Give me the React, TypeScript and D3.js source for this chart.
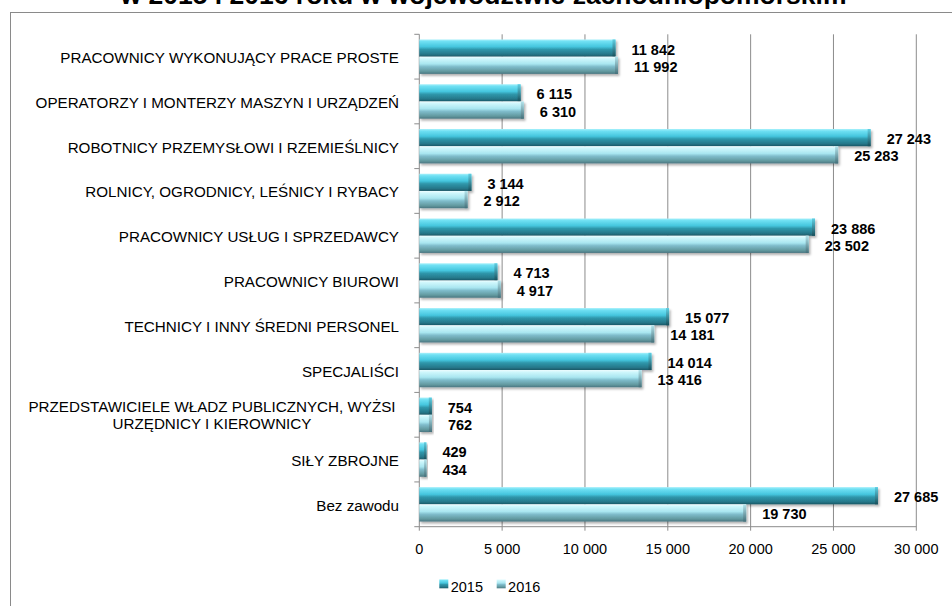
import React from "react";
import * as d3 from "d3";

const categories: string[] = [
  "PRACOWNICY WYKONUJĄCY PRACE PROSTE",
  "OPERATORZY I MONTERZY MASZYN I URZĄDZEŃ",
  "ROBOTNICY PRZEMYSŁOWI I RZEMIEŚLNICY",
  "ROLNICY, OGRODNICY, LEŚNICY I RYBACY",
  "PRACOWNICY USŁUG I SPRZEDAWCY",
  "PRACOWNICY BIUROWI",
  "TECHNICY I INNY ŚREDNI PERSONEL",
  "SPECJALIŚCI",
  "PRZEDSTAWICIELE WŁADZ PUBLICZNYCH, WYŻSI\nURZĘDNICY I KIEROWNICY",
  "SIŁY ZBROJNE",
  "Bez zawodu",
];
const values2015: number[] = [11842, 6115, 27243, 3144, 23886, 4713, 15077, 14014, 754, 429, 27685];
const values2016: number[] = [11992, 6310, 25283, 2912, 23502, 4917, 14181, 13416, 762, 434, 19730];
const seriesNames: string[] = ["2015", "2016"];
const xTicks: number[] = [0, 5000, 10000, 15000, 20000, 25000, 30000];
const titleText = "w 2015 i 2016 roku w województwie zachodniopomorskim";

const W = 952;
const H = 606;
const plot = { left: 419.3, right: 916.3, top: 34.3, bottom: 526.7 };
const FONT = "'Liberation Sans', Arial, sans-serif";
const GRID = "#8c8c8c";

const locale = d3.formatLocale({ decimal: ",", thousands: "\u00a0", grouping: [3], currency: ["", ""] });
const fmt = locale.format(",d");

export default function App() {
  const x = d3.scaleLinear().domain([0, 30000]).range([plot.left, plot.right]);
  const y = d3.scaleBand<string>().domain(categories).range([plot.top, plot.bottom]).paddingInner(0).paddingOuter(0);
  const inner = d3
    .scaleBand<string>()
    .domain(seriesNames)
    .range([0, y.bandwidth()])
    .paddingInner(0)
    .paddingOuter(0.3);
  const bh = inner.bandwidth();
  const series = [values2015, values2016];
  const boundaries = d3.range(categories.length + 1).map((i) => plot.top + i * y.step());

  return (
    <svg width={W} height={H} style={{ position: "absolute", left: 0, top: 0, background: "#fff" }} fontFamily={FONT}>
      <defs>
        <linearGradient id="g2015" x1="0" y1="0" x2="0" y2="1">
          <stop offset="0" stopColor="#a9f1fb" />
          <stop offset="0.12" stopColor="#6fe0f3" />
          <stop offset="0.42" stopColor="#45c6de" />
          <stop offset="0.58" stopColor="#2f97ab" />
          <stop offset="0.85" stopColor="#26788a" />
          <stop offset="1" stopColor="#1b5866" />
        </linearGradient>
        <linearGradient id="g2016" x1="0" y1="0" x2="0" y2="1">
          <stop offset="0" stopColor="#effdff" />
          <stop offset="0.12" stopColor="#cff7fc" />
          <stop offset="0.42" stopColor="#a9e6f0" />
          <stop offset="0.58" stopColor="#7fbccb" />
          <stop offset="0.85" stopColor="#62999f" />
          <stop offset="1" stopColor="#4a7681" />
        </linearGradient>
        <linearGradient id="cap2015" x1="0" y1="0" x2="0" y2="1">
          <stop offset="0" stopColor="#5fcfe3" />
          <stop offset="1" stopColor="#184f5b" />
        </linearGradient>
        <linearGradient id="cap2016" x1="0" y1="0" x2="0" y2="1">
          <stop offset="0" stopColor="#b4e4ec" />
          <stop offset="1" stopColor="#44707a" />
        </linearGradient>
        <filter id="shadow" x="-5%" y="-30%" width="115%" height="180%">
          <feDropShadow dx="1.5" dy="2" stdDeviation="1.3" floodColor="#000" floodOpacity="0.3" />
        </filter>
      </defs>

      {/* title (cut off at top, as in the reference) */}
      <text x={483.5} y={4} textAnchor="middle" fontWeight="bold" fontSize={26.5} fill="#000">
        {titleText}
      </text>

      {/* frame */}
      <rect x={10.5} y={12.5} width={960} height={700} fill="none" stroke="#8a8a8a" strokeWidth={1} />

      {/* gridlines */}
      {xTicks.map((t) => (
        <line key={"g" + t} x1={x(t)} x2={x(t)} y1={plot.top} y2={plot.bottom + 4} stroke={GRID} strokeWidth={1} />
      ))}
      {/* y axis ticks */}
      {boundaries.map((b, i) => (
        <line key={"yt" + i} x1={plot.left - 5} x2={plot.left} y1={b} y2={b} stroke={GRID} strokeWidth={1} />
      ))}
      <line x1={plot.left} x2={plot.right} y1={plot.bottom} y2={plot.bottom} stroke={GRID} strokeWidth={1} />

      {/* bars */}
      {categories.map((c, ci) =>
        series.map((vals, si) => {
          const y0 = (y(c) as number) + (inner(seriesNames[si]) as number);
          const x1 = x(vals[ci]);
          const w = x1 - plot.left;
          const cap = Math.min(3, w / 3);
          return (
            <g key={c + si} filter="url(#shadow)">
              <rect x={plot.left} y={y0} width={w} height={bh} fill={`url(#g${seriesNames[si]})`} />
              <rect x={x1 - cap} y={y0} width={cap} height={bh} fill={`url(#cap${seriesNames[si]})`} />
            </g>
          );
        })
      )}

      {/* data labels */}
      {categories.map((c, ci) =>
        series.map((vals, si) => {
          const y0 = (y(c) as number) + (inner(seriesNames[si]) as number);
          return (
            <text
              key={"l" + c + si}
              x={x(vals[ci]) + 16}
              y={y0 + bh / 2 + 6.5}
              fontSize={14.5}
              fontWeight="bold"
              fill="#000"
            >
              {fmt(vals[ci])}
            </text>
          );
        })
      )}

      {/* category labels */}
      {categories.map((c) => {
        const lines = c.split("\n");
        const cy = (y(c) as number) + y.bandwidth() / 2;
        const lh = 16.7;
        if (lines.length === 1) {
          return (
            <text key={"c" + c} x={399} y={cy + 6.5} textAnchor="end" fontSize={15.2} fill="#000">
              {c}
            </text>
          );
        }
        const startY = cy - ((lines.length - 1) * lh) / 2 + 6.5;
        return (
          <text key={"c" + c} x={212} textAnchor="middle" fontSize={15.2} fill="#000">
            {lines.map((ln, i) => (
              <tspan key={i} x={212} y={startY + i * lh - 0.5}>
                {ln}
              </tspan>
            ))}
          </text>
        );
      })}

      {/* x tick labels */}
      {xTicks.map((t) => (
        <text key={"xt" + t} x={x(t)} y={553.5} textAnchor="middle" fontSize={14.5} fill="#000">
          {fmt(t)}
        </text>
      ))}

      {/* legend */}
      {seriesNames.map((s, i) => {
        const lx = 439.3 + i * 57.4;
        return (
          <g key={"lg" + s}>
            <rect x={lx} y={579.3} width={9} height={9} fill={`url(#g${s})`} />
            <text x={lx + 11.4} y={591.5} fontSize={14.5} fill="#000">
              {s}
            </text>
          </g>
        );
      })}
    </svg>
  );
}
